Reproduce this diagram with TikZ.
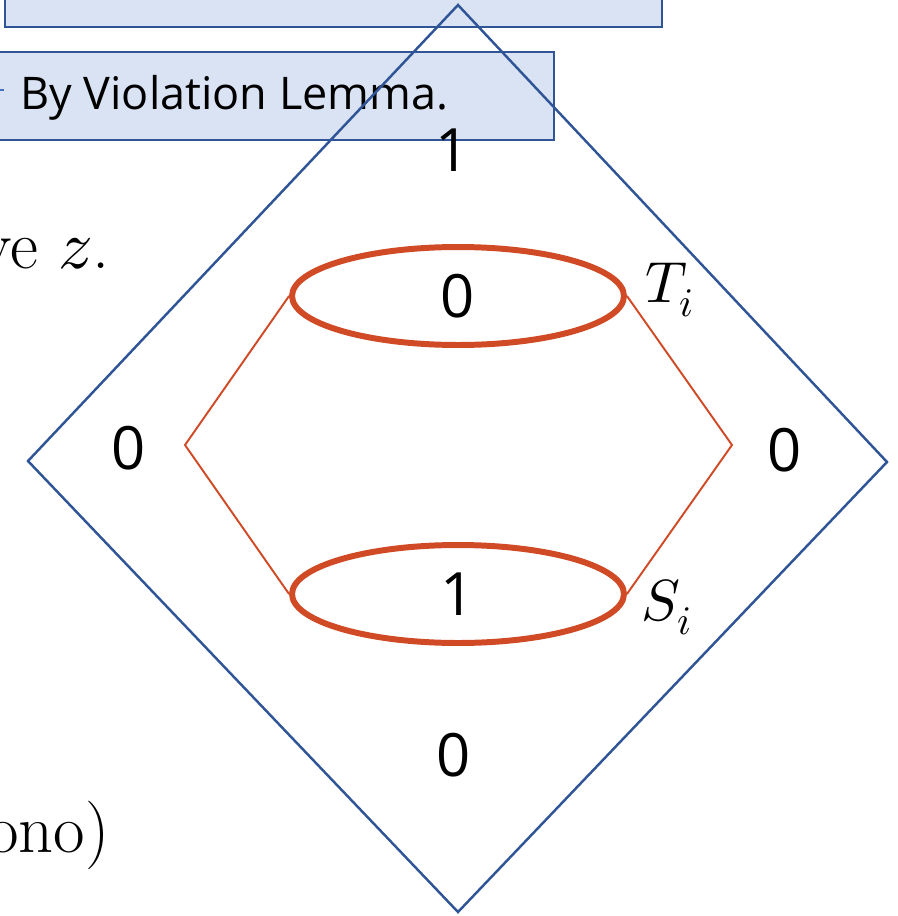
\documentclass[tikz,border=0pt]{standalone}
\usepackage{fontspec}
\usepackage{unicode-math}
\newfontfamily\uisans{Open Sans}
\usetikzlibrary{shapes.geometric}

\definecolor{boxfill}{RGB}{218,227,243}
\definecolor{boxline}{RGB}{47,85,151}
\definecolor{setred}{RGB}{208,74,38}
\definecolor{tickblue}{RGB}{68,114,196}

\tikzset{
  digit/.style={font=\uisans\fontsize{34}{40}\selectfont, inner sep=0pt},
  setoval/.style={ellipse, draw=setred, line width=3.4pt, inner sep=0pt,
    minimum width=6.64cm, minimum height=1.96cm,
    font=\uisans\fontsize{34}{40}\selectfont},
  setname/.style={font=\fontsize{33}{38}\selectfont, inner sep=0pt},
  bodytext/.style={font=\fontsize{39}{44}\selectfont, inner sep=0pt},
  notebox/.style={fill=boxfill, draw=boxline, line width=1.3pt}
}

\begin{document}
\begin{tikzpicture}[x=0.02cm, y=-0.02cm]
  \useasboundingbox (0,0) rectangle (897,916);
  \clip (0,0) rectangle (897,916);

  % Note boxes behind the lattice
  \draw[notebox] (5,-20) rectangle (662,27);
  \draw[notebox] (-20,52) rectangle (554,140);
  \node[font=\uisans\fontsize{25.6}{30}\selectfont, anchor=west, inner sep=0pt]
    (lemma) at (20,98) {By Violation Lemma.};
  \coordinate (tickin) at (-5,90);
  \coordinate (tickout) at (4,90);
  \draw[tickblue, line width=1pt] (tickin) -- (tickout);

  % Left-hand text, cut by the frame
  \node[bodytext, anchor=base east] (textz) at (110,268) {ve $z$.};
  \node[bodytext, anchor=base east] (textmono) at (110,852) {ono)};

  % Outer diamond
  \coordinate (top) at (458,5);
  \coordinate (left) at (28,461);
  \coordinate (right) at (887,462);
  \coordinate (bottom) at (458,912);
  \draw[boxline, line width=1.4pt, line join=miter] (top) -- (right) -- (bottom) -- (left) -- cycle;

  % Values in the diamond
  \node[digit] (vtop) at (453,150) {1};
  \node[digit] (vleft) at (129,448) {0};
  \node[digit] (vright) at (785,450) {0};
  \node[digit] (vbottom) at (454,755) {0};

  % Sets T_i and S_i
  \node[setoval] (Tset) at (458,296) {0};
  \node[setoval] (Sset) at (458,594) {1};
  \node[setname] (Tlabel) at (670,290) {$T_i$};
  \node[setname] (Slabel) at (667,607) {$S_i$};

  % Thin hexagon joining the two sets
  \coordinate (hexleft) at (185,445);
  \coordinate (hexright) at (732,445);
  \draw[setred, line width=1.1pt] (Tset.west) -- (hexleft) -- (Sset.west);
  \draw[setred, line width=1.1pt] (Tset.east) -- (hexright) -- (Sset.east);

\end{tikzpicture}
\end{document}
